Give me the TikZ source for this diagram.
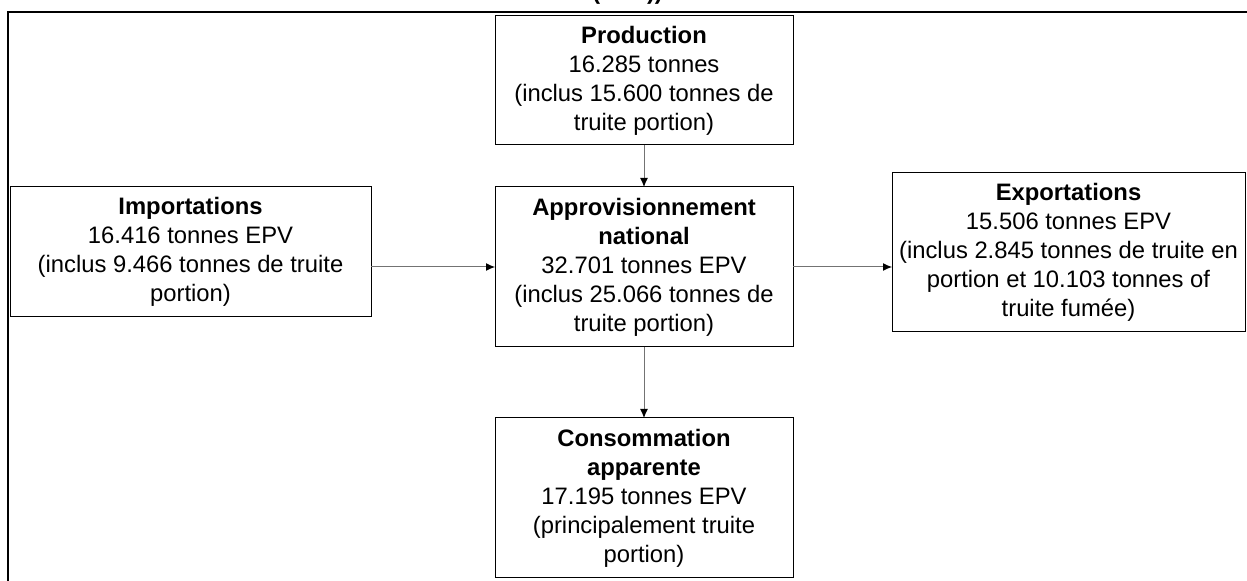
\documentclass[tikz,border=0pt]{standalone}
\usepackage{fontspec}
\setmainfont{Liberation Sans}
\usetikzlibrary{arrows.meta}
\begin{document}
\begin{tikzpicture}[x=0.5pt,y=-0.5pt,
  box/.style={draw=black, line width=0.5pt, rectangle, inner sep=0pt, outer sep=0pt,
    align=center, text=black, font=\fontsize{11.9pt}{14.5pt}\selectfont},
  flow/.style={draw=black!55, line width=0.5pt, -{Latex[length=4.5pt,width=4pt,black]}},
  frame/.style={draw=black, line width=1pt},
  titletext/.style={font=\fontsize{11.75pt}{14.5pt}\selectfont\bfseries, inner sep=0pt, anchor=base}]
\useasboundingbox (0,0) rectangle (1247,581);
% cut-off title
\node[titletext] (title) at (627.5,0) {(EPV))};
% frame
\coordinate (fbl) at (8,583);
\coordinate (ftl) at (8,12.5);
\coordinate (ftr) at (1249,12.5);
\draw[frame] (fbl) -- (ftl) -- (ftr);
% boxes
\node[box, minimum width=149pt, minimum height=64.5pt] (prod) at (644,80.5)
  {\textbf{Production}\\16.285 tonnes\\(inclus 15.600 tonnes de\\truite portion)};
\node[box, minimum width=149pt, minimum height=80pt] (appr) at (644,267)
  {\textbf{Approvisionnement}\\\textbf{national}\\32.701 tonnes EPV\\(inclus 25.066 tonnes de\\truite portion)};
\node[box, minimum width=180.5pt, minimum height=65pt] (imp) at (190.5,252)
  {\textbf{Importations}\\16.416 tonnes EPV\\(inclus 9.466 tonnes de truite\\portion)};
\node[box, minimum width=176.5pt, minimum height=79.5pt] (exp) at (1068.5,252.5)
  {\textbf{Exportations}\\15.506 tonnes EPV\\(inclus 2.845 tonnes de truite en\\portion et 10.103 tonnes of\\truite fumée)};
\node[box, minimum width=149pt, minimum height=80pt] (cons) at (644,498)
  {\textbf{Consommation}\\\textbf{apparente}\\17.195 tonnes EPV\\(principalement truite\\portion)};
% connectors
\draw[flow] (prod.south) -- (appr.north);
\draw[flow] (imp.east |- appr.west) -- (appr.west);
\draw[flow] (appr.east) -- (exp.west |- appr.east);
\draw[flow] (appr.south) -- (cons.north);
\end{tikzpicture}
\end{document}
